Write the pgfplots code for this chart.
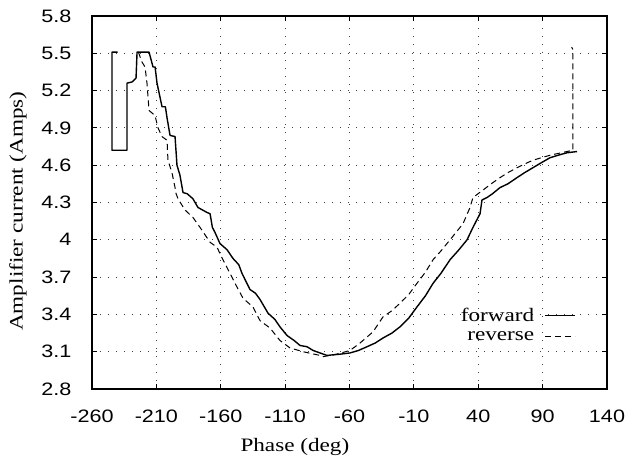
\documentclass[border=0pt]{standalone}
\usepackage{graphicx}
\usepackage{fontspec}
\setmainfont{Liberation Serif}
\newfontfamily\tickfont{Liberation Sans}
\usepackage{pgfplots}
\pgfplotsset{compat=1.18}
\newcommand{\wide}[1]{\scalebox{1.22}[1]{#1}}
\newcommand{\lab}[1]{{\fontsize{19bp}{22bp}\selectfont\wide{#1}}}
\begin{document}
\begin{tikzpicture}
\useasboundingbox (-92bp,-79bp) rectangle (538bp,389bp);
\begin{axis}[
  at={(0,0)}, anchor=south west,
  scale only axis, width=515bp, height=373bp,
  xmin=-260, xmax=140, ymin=2.8, ymax=5.8,
  xtick={-260,-210,-160,-110,-60,-10,40,90,140},
  ytick={2.8,3.1,3.4,3.7,4,4.3,4.6,4.9,5.2,5.5,5.8},
  /pgf/number format/assume math mode=true,
  xticklabel={\tickfont\fontsize{18bp}{21bp}\selectfont\scalebox{1.2}[1]{\pgfmathprintnumber{\tick}}},
  yticklabel={\tickfont\fontsize{18bp}{21bp}\selectfont\scalebox{1.2}[1]{\pgfmathprintnumber{\tick}}},
  xticklabel style={yshift=-17bp},
  yticklabel style={xshift=-17bp},
  tick align=inside, major tick length=5bp,
  tick style={black, line width=0.8bp},
  axis line style={line width=1.3bp},
  grid=major,
  major grid style={black!75, line width=0.9bp, dash pattern=on 1bp off 7bp},
  xlabel={\lab{Phase (deg)}},
  ylabel={\lab{Amplifier current (Amps)}},
  xlabel style={at={(axis description cs:0.394,-0.155)}, anchor=center},
  ylabel style={at={(axis description cs:-0.1437,0.477)}, anchor=center},
  legend plot pos=right,
  legend cell align=right,
  legend image code/.code={\path[draw=none,fill=none] (0bp,0bp) -- (10bp,0bp); \draw[#1] (10bp,0bp) -- (40bp,0bp);},
  legend style={at={(axis description cs:0.94,0.172)}, anchor=east, draw=none, fill=none,
    inner sep=0pt, row sep=6bp,
    nodes={inner sep=1bp}},
]
\addplot[black, line width=1.4bp, line join=round] coordinates {
(-240,5.51) (-244.5,5.51) (-244.5,4.72) (-232.8,4.72) (-232.8,5.26) (-228.8,5.27)
(-225.8,5.30) (-225.0,5.51) (-215.7,5.51) (-212.6,5.39) (-211,5.39) (-209.5,5.26) (-205.6,5.07)
(-203,5.07) (-201.7,4.98) (-199.4,4.84) (-195.5,4.83) (-194.0,4.60) (-191.7,4.52) (-189.3,4.38)
(-186,4.37) (-181.6,4.33) (-177.7,4.26) (-170.7,4.22) (-168.3,4.21) (-166.5,4.10) (-164.5,4.06) (-160.6,3.97)
(-155.1,3.92) (-150.5,3.85) (-146,3.80) (-143.5,3.73) (-137.3,3.60) (-133,3.57) (-129.5,3.52) (-123.3,3.41)
(-118,3.36) (-114.0,3.30) (-108.5,3.23) (-103,3.19) (-98.4,3.15) (-93,3.14) (-88.3,3.11) (-77.5,3.07) (-67.4,3.08)
(-59.6,3.09) (-53,3.11) (-46.4,3.14) (-40,3.17) (-34.0,3.21) (-27,3.25) (-20.8,3.30) (-14,3.37) (-7.6,3.46)
(-1,3.55) (4.9,3.65) (11,3.73) (18.1,3.84) (25,3.92) (31.3,4.00) (35.9,4.10) (41.4,4.21) (42.9,4.32) (46.8,4.34)
(51,4.37) (56.9,4.42) (63,4.45) (70.1,4.50) (76,4.54) (82.5,4.58) (89,4.62) (95.7,4.66) (102,4.68) (108.9,4.70) (116.7,4.71)
};
\addlegendentry{\lab{forward}}
\addplot[black, line width=1.0bp, dash pattern=on 6bp off 4bp] coordinates {
(-224,5.51) (-221.2,5.43) (-218.8,5.39) (-217.3,5.26) (-215.7,5.04) (-211.1,5.00)
(-208.7,4.90) (-205.6,4.83) (-201.7,4.80) (-201.0,4.64) (-197.9,4.54) (-195.5,4.42)
(-195.0,4.38) (-193.2,4.33) (-187.8,4.24) (-181.6,4.18) (-176.1,4.10) (-168.3,3.98)
(-162.9,3.94) (-158.3,3.84) (-152.8,3.73) (-147.4,3.62) (-142.7,3.53) (-135.0,3.46)
(-129.5,3.35) (-121.7,3.29) (-114.0,3.19) (-106.2,3.13) (-96.1,3.10) (-82.9,3.07)
(-80.6,3.06) (-70,3.08) (-59.6,3.11) (-51.8,3.17) (-41.7,3.26) (-34.0,3.38) (-27,3.43) (-20.8,3.49)
(-14,3.56) (-7.6,3.65) (-1,3.74) (4.9,3.84) (11,3.91) (18.1,4.00) (28.2,4.13) (33.6,4.26) (35.9,4.34)
(43.7,4.40) (50,4.45) (56.9,4.50) (63,4.54) (70.1,4.58) (76,4.61) (82.5,4.64) (89,4.66) (95.7,4.68) (108.9,4.71)
(113.5,4.72) (113.5,5.53) (112.5,5.55)
};
\addlegendentry{\lab{reverse}}
\end{axis}
\end{tikzpicture}
\end{document}
